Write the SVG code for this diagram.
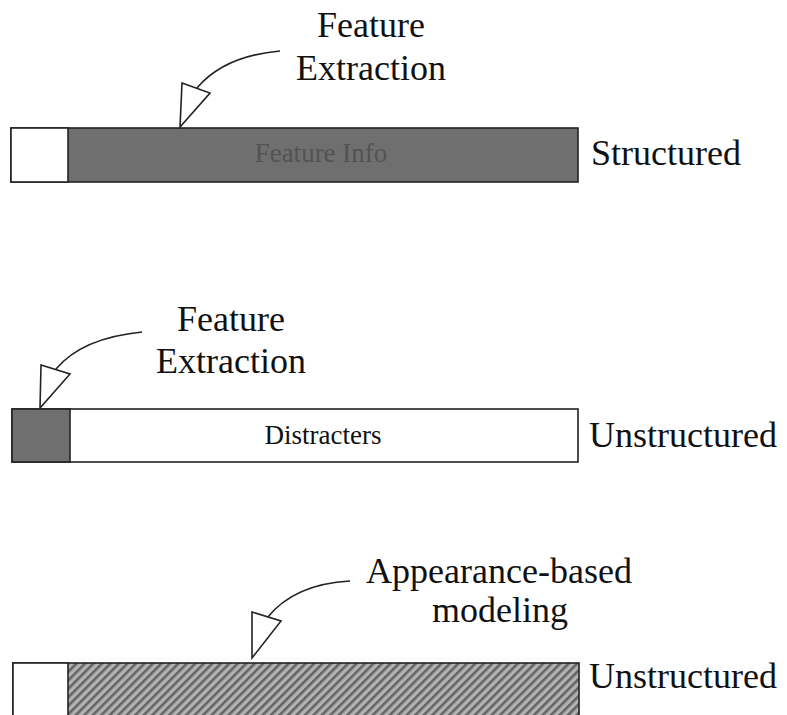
<svg xmlns="http://www.w3.org/2000/svg" width="787" height="715" viewBox="0 0 787 715">
<defs>
<pattern id="hatch" patternUnits="userSpaceOnUse" width="6" height="6" patternTransform="rotate(45)">
<rect width="6" height="6" fill="#b2b2b2"/>
<rect width="2.6" height="6" fill="#646464"/>
</pattern>
</defs>
<style>
.lbl{font-family:"Liberation Serif","Times New Roman",serif;font-size:36px;fill:#111}
.inner{font-family:"Liberation Serif","Times New Roman",serif;font-size:27px}
.box{stroke:#222;stroke-width:1.6}
.lead{fill:none;stroke:#222;stroke-width:1.6}
.head{fill:#fff;stroke:#222;stroke-width:1.6;stroke-linejoin:miter}
</style>
<rect width="787" height="715" fill="#fff"/>

<g id="bar-structured">
<rect class="box" x="11" y="128" width="567" height="54" fill="#6f6f6f"/>
<rect class="box" x="11" y="128" width="57" height="54" fill="#fff"/>
<text class="inner" x="321" y="162" text-anchor="middle" fill="#535353">Feature Info</text>
<text class="lbl" x="591" y="165">Structured</text>
</g>

<g id="label-fe1">
<text class="lbl" x="371" y="37" text-anchor="middle">Feature</text>
<text class="lbl" x="371" y="80" text-anchor="middle">Extraction</text>
</g>

<g id="bar-unstructured1">
<rect class="box" x="12" y="409" width="566" height="53" fill="#fff"/>
<rect class="box" x="12" y="409" width="58" height="53" fill="#6f6f6f"/>
<text class="inner" x="323" y="444" text-anchor="middle" fill="#111">Distracters</text>
<text class="lbl" x="589" y="447">Unstructured</text>
</g>

<g id="label-fe2">
<text class="lbl" x="231" y="331" text-anchor="middle">Feature</text>
<text class="lbl" x="231" y="373" text-anchor="middle">Extraction</text>
</g>

<g id="bar-unstructured2">
<rect class="box" x="13" y="663" width="566" height="60" fill="url(#hatch)"/>
<rect class="box" x="13" y="663" width="55" height="60" fill="#fff"/>
<text class="lbl" x="589" y="688">Unstructured</text>
</g>

<g id="label-abm">
<text class="lbl" x="499" y="583" text-anchor="middle">Appearance-based</text>
<text class="lbl" x="500" y="622" text-anchor="middle">modeling</text>
</g>

<g id="connectors">
<path class="lead" d="M280,51 Q224,56 197,88"/>
<polygon class="head" points="182,83 210,93 180,127"/>
<path class="lead" d="M142,332 Q82,338 56,369"/>
<polygon class="head" points="41,365 70,374 40,408"/>
<path class="lead" d="M350,581 Q294,584 267,618"/>
<polygon class="head" points="252,612 281,621 252,658"/>
</g>
</svg>
